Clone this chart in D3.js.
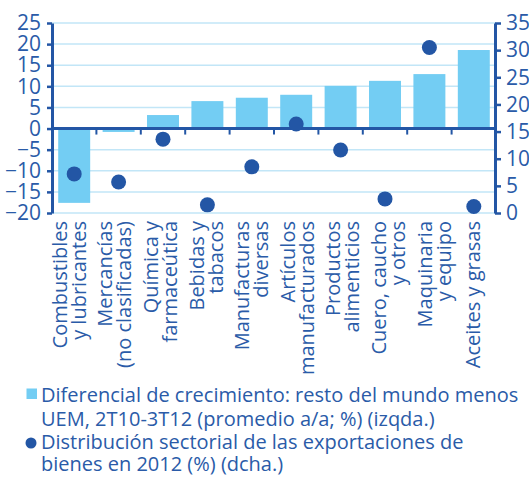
<!DOCTYPE html>
<html>
<head>
<meta charset="utf-8">
<script src="https://cdn.jsdelivr.net/npm/d3@7"></script>
<style>
  body { margin: 0; background: #fff; }
  svg { display: block; font-family: "Open Sans", sans-serif; }
</style>
</head>
<body>
<svg id="chart" width="529" height="477"></svg>
<script>
  // categories, label lines (2 lines where the original wraps)
  var cats = ["Combustibles", "Mercancias", "Quimica", "Bebidas", "Manufacturas",
              "Articulos", "Productos", "Cuero", "Maquinaria", "Aceites"];
  var catLabels = [
    ["Combustibles", "y lubricantes"],
    ["Mercancías", "(no clasificadas)"],
    ["Química y", "farmaceútica"],
    ["Bebidas y", "tabacos"],
    ["Manufacturas", "diversas"],
    ["Artículos", "manufacturados"],
    ["Productos", "alimenticios"],
    ["Cuero, caucho", "y otros"],
    ["Maquinaria", "y equipo"],
    ["Aceites y grasas"]
  ];
  // bars: growth differential (left axis)
  var growthDiff = [-17.6, -0.8, 3.2, 6.5, 7.3, 8.0, 10.1, 11.3, 12.9, 18.6];
  // dots: sectoral share of exports 2012 (right axis)
  var exportShare = [7.2, 5.7, 13.6, 1.5, 8.5, 16.4, 11.6, 2.6, 30.5, 1.2];
  var leftTicks = [-20, -15, -10, -5, 0, 5, 10, 15, 20, 25];
  var rightTicks = [0, 5, 10, 15, 20, 25, 30, 35];
  var legendItems = [
    ["Diferencial de crecimiento: resto del mundo menos", "UEM, 2T10-3T12 (promedio a/a; %) (izqda.)"],
    ["Distribución sectorial de las exportaciones de", "bienes en 2012 (%) (dcha.)"]
  ];

  var dark = "#2356a5", textCol = "#2a5ba8", barCol = "#73cdf3", gridCol = "#c2e6f7";
  var plotL = 52, plotR = 496, plotT = 23, plotB = 213;

  var svg = d3.select("#chart");

  var x = d3.scaleBand().domain(cats).range([plotL, plotR]).paddingInner(0.28).paddingOuter(0.14);
  var xLab = d3.scaleBand().domain(cats).range([45, 501]);
  var yL = d3.scaleLinear().domain([-20, 25]).range([plotB, plotT]);
  var yR = d3.scaleLinear().domain([0, 35]).range([plotB, plotT]);

  // gridlines
  svg.append("g").selectAll("line").data(leftTicks).enter().append("line")
    .attr("x1", plotL).attr("x2", plotR)
    .attr("y1", function(d){ return yL(d); }).attr("y2", function(d){ return yL(d); })
    .attr("stroke", gridCol).attr("stroke-width", 1.5);

  // bars
  svg.append("g").selectAll("rect").data(growthDiff).enter().append("rect")
    .attr("x", function(d, i){ return x(cats[i]); })
    .attr("width", x.bandwidth())
    .attr("y", function(d){ return yL(Math.max(0, d)); })
    .attr("height", function(d){ return Math.abs(yL(d) - yL(0)); })
    .attr("fill", barCol);

  // zero line + separators between categories
  svg.append("line").attr("x1", plotL).attr("x2", plotR)
    .attr("y1", yL(0)).attr("y2", yL(0))
    .attr("stroke", dark).attr("stroke-width", 3);
  var gap = x.step() - x.bandwidth();
  svg.append("g").selectAll("line").data(cats.slice(1)).enter().append("line")
    .attr("x1", function(d){ return x(d) - gap / 2; })
    .attr("x2", function(d){ return x(d) - gap / 2; })
    .attr("y1", yL(0)).attr("y2", yL(0) + 6)
    .attr("stroke", dark).attr("stroke-width", 2);

  // dots
  svg.append("g").selectAll("circle").data(exportShare).enter().append("circle")
    .attr("cx", function(d, i){ return x(cats[i]) + x.bandwidth() / 2; })
    .attr("cy", function(d){ return yR(d); })
    .attr("r", 7.5)
    .attr("fill", dark);

  // axes
  var axL = svg.append("g").attr("transform", "translate(" + plotL + ",0)")
    .call(d3.axisLeft(yL).tickValues(leftTicks).tickSize(5).tickSizeOuter(0).tickPadding(6));
  var axR = svg.append("g").attr("transform", "translate(" + (plotR - 1) + ",0)")
    .call(d3.axisRight(yR).tickValues(rightTicks).tickSize(6).tickSizeOuter(0).tickPadding(5));
  [axL, axR].forEach(function(a){
    a.select(".domain").attr("stroke", dark).attr("stroke-width", 3);
    a.selectAll(".tick line").attr("stroke", dark).attr("stroke-width", 2.5);
    a.selectAll(".tick text").attr("fill", textCol)
      .style("font-size", "21px").style("font-family", "'Open Sans', sans-serif");
  });

  // category labels, rotated
  var lab = svg.append("g").selectAll("text").data(catLabels).enter().append("text")
    .attr("transform", function(d, i){
      var base = xLab(cats[i]) + xLab.bandwidth() / 2;
      var off = d.length === 1 ? 2 : -1;
      return "translate(" + (base + off) + ",221) rotate(-90)";
    })
    .attr("text-anchor", "end")
    .attr("fill", textCol)
    .style("font-size", "20px");
  lab.selectAll("tspan").data(function(d){ return d; }).enter().append("tspan")
    .attr("x", 0)
    .attr("y", function(d, j){ return j * 19; })
    .text(function(d){ return d; });

  // legend
  var lg = svg.append("g");
  lg.append("rect").attr("x", 26.5).attr("y", 388.5).attr("width", 10.5).attr("height", 10.5).attr("fill", barCol);
  lg.append("circle").attr("cx", 31).attr("cy", 443).attr("r", 5.5).attr("fill", dark);
  var legY = [[401.7, 425.5], [449, 471]];
  legendItems.forEach(function(item, k){
    item.forEach(function(line, j){
      lg.append("text").attr("x", 41).attr("y", legY[k][j])
        .attr("fill", textCol).style("font-size", "20px").text(line);
    });
  });
</script>
</body>
</html>
